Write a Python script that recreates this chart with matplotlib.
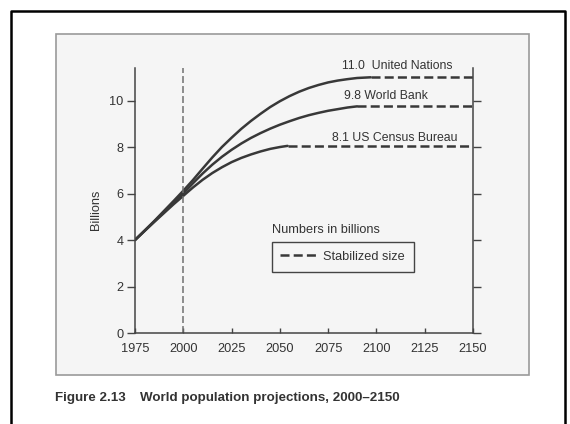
import matplotlib
matplotlib.use("Agg")
import matplotlib.pyplot as plt
from matplotlib.patches import Rectangle
from matplotlib.lines import Line2D

plt.rcParams["font.family"] = ["Liberation Sans", "DejaVu Sans"]
plt.rcParams["lines.scale_dashes"] = False

# values (billions)
un_years = [1975, 1985, 1995, 2000, 2005, 2010, 2015, 2020, 2025, 2030, 2035, 2040,
            2045, 2050, 2055, 2060, 2065, 2070, 2075, 2080, 2085, 2090, 2097]
un_pop = [4.0, 4.82, 5.68, 6.12, 6.58, 7.07, 7.55, 8.0, 8.4, 8.78, 9.12, 9.43,
          9.72, 9.97, 10.19, 10.38, 10.54, 10.67, 10.78, 10.86, 10.92, 10.97, 11.0]

wb_years = [1975, 1985, 1995, 2000, 2005, 2010, 2015, 2020, 2025, 2030, 2035, 2040,
            2045, 2050, 2055, 2060, 2065, 2070, 2075, 2080, 2085, 2090]
wb_pop = [4.0, 4.8, 5.6, 6.0, 6.44, 6.86, 7.24, 7.58, 7.88, 8.15, 8.39, 8.6,
          8.79, 8.96, 9.11, 9.25, 9.37, 9.47, 9.56, 9.63, 9.7, 9.75]

census_years = [1975, 1985, 1995, 2000, 2005, 2010, 2015, 2020, 2025, 2030, 2035,
                2040, 2045, 2050, 2054]
census_pop = [4.0, 4.78, 5.54, 5.9, 6.26, 6.59, 6.88, 7.13, 7.35, 7.53, 7.68,
              7.81, 7.92, 8.0, 8.05]

stable_start = [2097, 2090, 2054]
stable_size = [11.0, 9.75, 8.05]
stable_end = 2150

labels = ["11.0  United Nations", "9.8 World Bank", "8.1 US Census Bureau"]
label_x = [2111, 2105, 2109.5]
label_y = [11.5, 10.21, 8.38]

xticks = [1975, 2000, 2025, 2050, 2075, 2100, 2125, 2150]
yticks = [0, 2, 4, 6, 8, 10]

W, H = 570, 424
fs = 9.2
fig = plt.figure(figsize=(W / 100, H / 100), dpi=100)
fig.patch.set_facecolor("white")

# scanned page frame and outer black border
fig.add_artist(Rectangle((56 / W, 1 - 375 / H), (529 - 56) / W, (375 - 34) / H,
                         transform=fig.transFigure, facecolor="#f5f5f5",
                         edgecolor="#9a9a9a", lw=1.2, zorder=0))
fig.add_artist(Line2D([11 / W, 11 / W, 565 / W, 565 / W], [0, 1 - 11 / H, 1 - 11 / H, 0],
                      transform=fig.transFigure, color="black", lw=1.8))

ax = fig.add_axes([135 / W, 1 - 333 / H, 338 / W, 265 / H])
ax.patch.set_alpha(0)

ink = "#383838"
ax.plot(un_years, un_pop, color=ink, lw=1.8, solid_capstyle="round", solid_joinstyle="round")
ax.plot(wb_years, wb_pop, color=ink, lw=1.8, solid_capstyle="round", solid_joinstyle="round")
ax.plot(census_years, census_pop, color=ink, lw=1.8, solid_capstyle="round",
        solid_joinstyle="round")
for x0, v in zip(stable_start, stable_size):
    ax.plot([x0, stable_end], [v, v], color=ink, lw=1.8, dashes=(6.5, 3))

ax.axvline(2000, color="#707070", lw=1.1, dashes=(5, 2.2))

for t, x, y in zip(labels, label_x, label_y):
    ax.text(x, y, t, ha="center", va="center", fontsize=8.8, color="#333333", clip_on=False)

ax.text(2045.8, 4.45, "Numbers in billions", ha="left", va="center", fontsize=fs, color="#333333")
h = Line2D([], [], color=ink, lw=1.8, dashes=(6.5, 3))
leg = ax.legend([h], ["Stabilized size"], loc="upper left", bbox_to_anchor=(0.404, 0.3445),
                borderaxespad=0, fancybox=False, framealpha=1, edgecolor="#444444",
                facecolor="#f5f5f5", fontsize=fs, handlelength=3.0, handletextpad=0.35,
                borderpad=0.7)
leg.get_frame().set_linewidth(1.0)
for txt in leg.get_texts():
    txt.set_color("#333333")

ax.set_xlim(1975, 2150)
ax.set_ylim(0, 11.4)
ax.set_xticks(xticks)
ax.set_yticks(yticks)
ax.spines["top"].set_visible(False)
for s in ["left", "right", "bottom"]:
    ax.spines[s].set_color("#444444")
    ax.spines[s].set_linewidth(1.1)
ax.tick_params(axis="x", direction="in", length=3.6, width=1.0, color="#444444",
               labelsize=fs, labelcolor="#333333", pad=7.5)
ax.tick_params(axis="y", direction="out", length=5.8, width=1.0, color="#444444",
               labelsize=fs, labelcolor="#333333", pad=2.5, right=True)
ax.set_ylabel("Billions", fontsize=fs, color="#333333")
ax.yaxis.set_label_coords(-0.0985, 0.464)

fig.text(55 / W, 1 - 398 / H, "Figure 2.13", fontsize=9.6, fontweight="bold",
         color="#333333", va="center")
fig.text(140 / W, 1 - 398 / H, "World population projections, 2000\u20132150", fontsize=9.6,
         fontweight="bold", color="#333333", va="center")

fig.savefig("out.png", dpi=100, facecolor="white")
